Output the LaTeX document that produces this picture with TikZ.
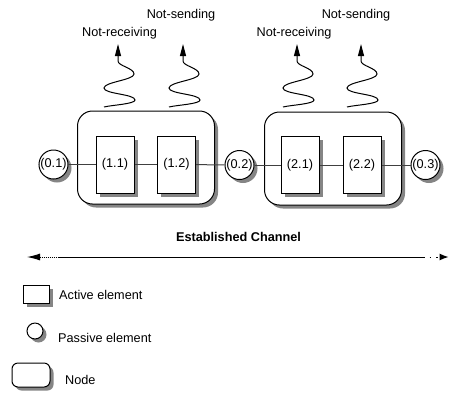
\documentclass[tikz,border=0pt]{standalone}
\usepackage{fontspec}
\setmainfont{Liberation Sans}
\usetikzlibrary{shadows,arrows.meta}
\begin{document}
\begin{tikzpicture}[x=1pt,y=-1pt,
  every node/.style={font=\fontsize{12.7}{15}\selectfont, inner sep=0pt},
  shad/.style={drop shadow={shadow xshift=3.5pt,shadow yshift=-3.5pt,fill=black!48,opacity=1}},
  bignode/.style={draw=black, line width=1pt, fill=white, rounded corners=15pt, minimum width=137pt, minimum height=93pt, shad},
  active/.style={draw=black, line width=1pt, fill=white, minimum width=38pt, minimum height=57pt, shad},
  passive/.style={draw=black, line width=1pt, fill=white, circle, minimum size=29pt, shad},
  conn/.style={draw=black!75, line width=1pt},
  wave/.style={line width=1pt, -{Triangle[length=12pt,width=6pt]}},
  lbl/.style={anchor=center}
]
\useasboundingbox (0,0) rectangle (449,392);

% big nodes
\node[bignode] (n1) at (146,157.5) {};
\node[bignode] (n2) at (333,158.5) {};

% active elements
\node[active] (b11) at (115,164.5) {(1.1)};
\node[active] (b12) at (176.5,164.5) {(1.2)};
\node[active] (b21) at (300,165) {(2.1)};
\node[active] (b22) at (362,165) {(2.2)};

% passive elements
\node[passive] (c01) at (53.5,164.5) {(0.1)};
\node[passive] (c02) at (239.5,165) {(0.2)};
\node[passive] (c03) at (425.5,165) {(0.3)};

% connectors
\draw[conn] (c01) -- (b11);
\draw[conn] (b11) -- (b12);
\draw[conn] (b12) -- (c02);
\draw[conn] (c02) -- (b21);
\draw[conn] (b21) -- (b22);
\draw[conn] (b22) -- (c03);

% wavy arrows
\foreach \name/\x in {w1/118, w2/183, w3/297, w4/361}{
  \coordinate (\name-end) at (\x-14,107);
  \coordinate (\name-tip) at (\x,44);
  \draw[wave] (\name-end) .. controls (\x-6,105) and (\x+17,104) .. (\x+17,100)
     .. controls (\x+17,94) and (\x-14,94) .. (\x-14,88)
     .. controls (\x-14,82) and (\x+16,80) .. (\x+16,74)
     .. controls (\x+16,68) and (\x,66) .. (\x,61)
     -- (\name-tip);
}

% labels
\node[lbl] (t1) at (119.5,33) {Not-receiving};
\node[lbl] (t2) at (181,15) {Not-sending};
\node[lbl] (t3) at (294,33) {Not-receiving};
\node[lbl] (t4) at (356,15) {Not-sending};

% established channel
\node[lbl, font=\fontsize{12.7}{15}\selectfont\bfseries] (ec) at (238.5,236.5) {Established Channel};
\coordinate (chL) at (27,257);
\coordinate (chL2) at (58,257);
\coordinate (chR2) at (423,257);
\coordinate (chR) at (448.5,257);
\draw[line width=1pt, densely dotted, {Latex[length=13pt,width=7pt]}-] (chL) -- (chL2);
\draw[line width=1pt] (chL2) -- (chR2);
\draw[line width=1pt, dash pattern=on 1.5pt off 5pt, -{Latex[length=9pt,width=7pt]}] (chR2) -- (chR);

% legend
\node[draw=black, line width=1pt, fill=white, minimum width=26pt, minimum height=18pt, shad] (la) at (36,294) {};
\node[anchor=west] (lat) at (59,295) {Active element};
\node[draw=black, line width=1pt, fill=white, circle, minimum size=16pt, shad] (lp) at (35,331) {};
\node[anchor=west] (lpt) at (58,338) {Passive element};
\node[draw=black, line width=1pt, fill=white, rounded corners=6pt, minimum width=38pt, minimum height=24pt, shad] (ln) at (31,375) {};
\node[anchor=west] (lnt) at (65,380) {Node};
\end{tikzpicture}
\end{document}
